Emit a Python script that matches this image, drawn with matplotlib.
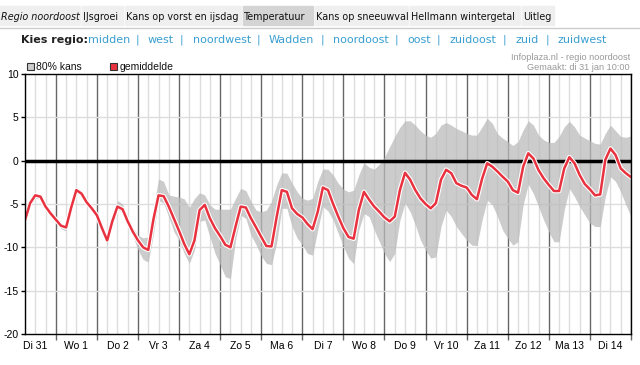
import matplotlib
matplotlib.use('Agg')

import matplotlib.pyplot as plt
import matplotlib.patheffects as pe
from matplotlib.patches import Rectangle

# tijdas: uren vanaf di 31 jan 06:00, stap 3 uur
uren = list(range(0, 355, 3))

gemiddelde = [
    -6.85, -4.9, -4.0, -4.15, -5.3, -6.1, -6.8, -7.5,
    -7.7, -5.4, -3.4, -3.8, -4.8, -5.5, -6.3, -7.8,
    -9.2, -7.0, -5.3, -5.6, -7.0, -8.2, -9.2, -10.0,
    -10.3, -6.8, -4.0, -4.1, -5.3, -6.7, -8.1, -9.6,
    -10.8, -9.2, -5.7, -5.1, -6.65, -7.8, -8.7, -9.7,
    -10.0, -7.6, -5.3, -5.4, -6.65, -7.7, -8.8, -9.85,
    -9.9, -6.5, -3.4, -3.6, -5.5, -6.15, -6.55, -7.3,
    -7.9, -5.9, -3.1, -3.4, -5.0, -6.45, -7.8, -8.8,
    -9.0, -5.7, -3.6, -4.5, -5.3, -5.9, -6.55, -7.0,
    -6.45, -3.4, -1.4, -2.2, -3.4, -4.35, -5.0, -5.5,
    -4.9, -2.2, -1.05, -1.45, -2.6, -2.9, -3.1, -3.95,
    -4.45, -2.1, -0.3, -0.7, -1.25, -1.85, -2.4, -3.4,
    -3.7, -0.7, 0.85, 0.25, -1.1, -2.05, -2.8, -3.5,
    -3.5, -0.9, 0.4, -0.3, -1.65, -2.7, -3.3, -4.0,
    -3.9, 0.1, 1.4, 0.65, -0.9, -1.45, -1.9,
]

kans_onder = [
    -7.2, -5.2, -4.3, -4.45, -5.6, -6.4, -7.1, -7.85,
    -8.1, -5.7, -3.7, -4.1, -5.1, -5.8, -6.6, -8.2,
    -9.7, -7.4, -5.6, -6.0, -7.4, -8.7, -10.3, -11.4,
    -11.7, -8.5, -4.6, -4.9, -6.5, -8.2, -9.15, -10.7,
    -11.85, -10.3, -7.0, -6.85, -8.8, -10.7, -12.0, -13.4,
    -13.6, -9.15, -6.3, -6.65, -8.6, -9.7, -11.0, -11.85,
    -12.0, -9.5, -5.5, -5.5, -7.6, -8.95, -9.7, -10.7,
    -10.9, -8.0, -5.3, -5.8, -6.85, -8.4, -9.9, -11.25,
    -11.9, -8.0, -6.1, -6.45, -8.0, -9.35, -10.7, -11.65,
    -10.7, -6.85, -4.9, -5.9, -7.4, -9.15, -10.3, -11.25,
    -11.1, -7.6, -5.7, -6.45, -7.6, -8.4, -9.15, -9.75,
    -9.8, -6.85, -4.55, -5.1, -6.45, -8.0, -8.95, -9.75,
    -9.35, -5.1, -2.7, -3.8, -5.3, -6.85, -8.2, -9.35,
    -9.35, -5.7, -3.2, -4.15, -5.3, -6.25, -7.2, -7.6,
    -7.6, -4.15, -1.85, -2.4, -3.6, -5.1, -6.45,
]

kans_boven = [
    -6.6, -4.6, -3.8, -3.9, -5.0, -5.8, -6.5, -7.2,
    -7.4, -5.1, -3.1, -3.5, -4.5, -5.2, -6.0, -7.5,
    -8.9, -6.6, -4.6, -5.0, -6.5, -7.7, -8.6, -8.9,
    -8.8, -5.5, -2.1, -2.4, -3.95, -4.1, -4.2, -4.4,
    -5.4, -4.35, -3.7, -3.95, -5.1, -5.6, -5.6, -5.6,
    -5.6, -4.35, -3.2, -3.45, -4.7, -5.7, -5.9, -5.7,
    -4.7, -2.8, -1.4, -1.45, -2.6, -3.6, -4.35, -4.55,
    -4.35, -2.4, -0.95, -1.0, -1.65, -2.6, -3.3, -3.6,
    -3.4, -1.65, -0.25, -0.75, -1.0, -0.4, 0.4, 1.6,
    2.8, 3.85, 4.6, 4.6, 4.1, 3.45, 2.95, 2.7,
    3.15, 4.1, 4.4, 4.1, 3.7, 3.45, 3.15, 2.95,
    2.95, 3.9, 4.9, 4.3, 3.1, 2.6, 2.2, 1.75,
    2.2, 3.55, 4.6, 4.1, 2.95, 2.4, 2.1, 2.1,
    2.8, 3.9, 4.55, 3.9, 2.95, 2.6, 2.3, 2.0,
    1.9, 3.15, 4.1, 3.45, 2.8, 2.7, 2.85,
]

dagen = ['Di 31', 'Wo 1', 'Do 2', 'Vr 3', 'Za 4', 'Zo 5', 'Ma 6', 'Di 7',
         'Wo 8', 'Do 9', 'Vr 10', 'Za 11', 'Zo 12', 'Ma 13', 'Di 14']

tabs = ['Regio noordoost', 'IJsgroei', 'Kans op vorst en ijsdag', 'Temperatuur',
        'Kans op sneeuwval', 'Hellmann wintergetal', 'Uitleg']
tab_x = [0, 82, 125, 243, 315, 410, 522, 556]

regios = ['midden', 'west', 'noordwest', 'Wadden', 'noordoost', 'oost',
          'zuidoost', 'zuid', 'zuidwest']
regio_x = [88, 148, 193, 269, 333, 407, 449, 515, 557]
scheiding_x = [137, 181, 258, 322, 396, 438, 504, 547]

W, H = 640, 365
ROOD = '#e8323f'
BAND = '#bbbbbb'
LICHT = '#dddddd'
DONKER = '#666666'
BLAUW = '#3a9fd0'


def px(x, y):
    return x / W, 1 - y / H


fig = plt.figure(figsize=(W / 100, H / 100), dpi=100)
fig.patch.set_facecolor('white')

# tabbladen bovenaan
for i, naam in enumerate(tabs):
    x0, x1 = tab_x[i], tab_x[i + 1] - 2
    kleur = '#d4d4d4' if naam == 'Temperatuur' else '#efefef'
    fig.patches.append(Rectangle(px(x0, 25), (x1 - x0) / W, 19 / H,
                                 transform=fig.transFigure, color=kleur, zorder=0))
    stijl = 'italic' if i == 0 else 'normal'
    fig.text(*px(x0 + 1, 16.5), naam, fontsize=6.9,
             style=stijl, va='center', ha='left', color='#111111',
             family='DejaVu Sans')
fig.add_artist(plt.Line2D([0, 1], [1 - 27.5 / H] * 2, transform=fig.transFigure,
                          color='#cccccc', lw=1))

# regio keuze
fig.text(*px(21, 40), 'Kies regio:', fontsize=8, weight='bold', va='center',
         color='#222222', family='DejaVu Sans')
for naam, x in zip(regios, regio_x):
    fig.text(*px(x, 40), naam, fontsize=8, va='center', color=BLAUW,
             family='DejaVu Sans')
for x in scheiding_x:
    fig.text(*px(x, 40), '|', fontsize=8, va='center', ha='center', color=BLAUW,
             family='DejaVu Sans')

# bron
fig.text(*px(630, 58), 'Infoplaza.nl - regio noordoost', fontsize=6.6,
         ha='right', va='center', color='#999999', family='Liberation Sans')
fig.text(*px(630, 68), 'Gemaakt: di 31 jan 10:00', fontsize=6.6,
         ha='right', va='center', color='#999999', family='Liberation Sans')

# legenda
fig.patches.append(Rectangle(px(27, 70), 7 / W, 7 / H, transform=fig.transFigure,
                             facecolor='#cccccc', edgecolor='#333333', lw=0.8))
fig.text(*px(36, 66.5), '80% kans', fontsize=7.5, va='center',
         family='Liberation Sans', color='#111111')
fig.patches.append(Rectangle(px(110, 70), 7 / W, 7 / H, transform=fig.transFigure,
                             facecolor=ROOD, edgecolor='#333333', lw=0.8))
fig.text(*px(120, 66.5), 'gemiddelde', fontsize=7.5, va='center',
         family='Liberation Sans', color='#111111')

# grafiek
ax = fig.add_axes([25 / W, 31 / H, 606 / W, 260 / H])
ax.set_xlim(0, 354)
ax.set_ylim(-20, 10)

for h in range(0, 355, 6):
    if (h - 18) % 24 == 0:
        ax.axvline(h, color=DONKER, lw=1, zorder=1)
    else:
        ax.axvline(h, color=LICHT, lw=1, zorder=1)
for v in [-15, -10, -5, 5]:
    ax.axhline(v, color=LICHT, lw=1, zorder=1)

ax.fill_between(uren, kans_onder, kans_boven, color=BAND, alpha=0.75, lw=0,
                zorder=2)
ax.axhline(0, color='black', lw=2.5, zorder=3)

ax.plot(uren, gemiddelde, color=ROOD, lw=1.8, zorder=4,
        path_effects=[pe.Stroke(linewidth=3.4, foreground='white'), pe.Normal()])

for s in ax.spines.values():
    s.set_color('black')
    s.set_linewidth(1)
    s.set_zorder(5)

ax.set_yticks([-20, -15, -10, -5, 0, 5, 10])
ax.set_yticklabels(['-20', '-15', '-10', '-5', '0', '5', '10'])
ax.tick_params(axis='y', length=3, width=1, color='black', pad=1.5,
               labelsize=7.5, labelfontfamily='Liberation Sans')

ax.set_xticks(range(18, 355, 24))
ax.set_xticklabels([])
ax.set_xticks(range(6, 355, 24), minor=True)
ax.set_xticklabels(dagen, minor=True)
ax.tick_params(axis='x', which='major', length=4, width=1, color=DONKER)
ax.tick_params(axis='x', which='minor', length=0, pad=5, labelsize=7.5,
               labelfontfamily='Liberation Sans')

fig.savefig('out.png', dpi=100)
